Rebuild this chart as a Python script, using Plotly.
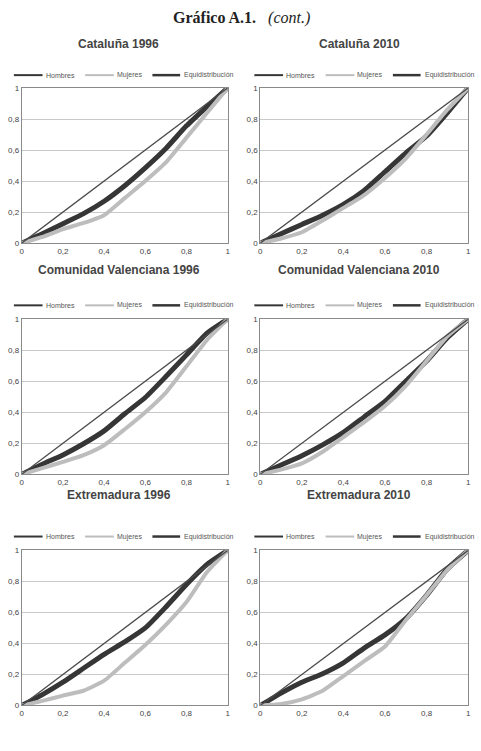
import plotly.graph_objects as go

# ---- data ----
titles = ["Cataluña 1996", "Cataluña 2010",
          "Comunidad Valenciana 1996", "Comunidad Valenciana 2010",
          "Extremadura 1996", "Extremadura 2010"]

x_pts = [0, 0.1, 0.2, 0.3, 0.4, 0.5, 0.6, 0.7, 0.8, 0.9, 1]

hombres = [
    [0, 0.06, 0.125, 0.19, 0.27, 0.37, 0.485, 0.61, 0.756, 0.88, 1],
    [0, 0.06, 0.12, 0.18, 0.25, 0.34, 0.46, 0.58, 0.69, 0.84, 1],
    [0, 0.065, 0.125, 0.197, 0.28, 0.39, 0.495, 0.63, 0.77, 0.91, 1],
    [0, 0.06, 0.12, 0.19, 0.27, 0.37, 0.47, 0.60, 0.73, 0.88, 1],
    [0, 0.07, 0.15, 0.24, 0.33, 0.41, 0.50, 0.635, 0.78, 0.91, 1],
    [0, 0.08, 0.15, 0.205, 0.275, 0.37, 0.455, 0.56, 0.71, 0.88, 1],
]
mujeres = [
    [0, 0.04, 0.09, 0.13, 0.18, 0.29, 0.40, 0.52, 0.68, 0.84, 1],
    [0, 0.03, 0.07, 0.146, 0.227, 0.31, 0.42, 0.545, 0.70, 0.86, 1],
    [0, 0.04, 0.08, 0.123, 0.187, 0.29, 0.40, 0.527, 0.696, 0.866, 1],
    [0, 0.03, 0.07, 0.145, 0.24, 0.336, 0.44, 0.57, 0.73, 0.89, 1],
    [0, 0.03, 0.064, 0.095, 0.16, 0.275, 0.39, 0.52, 0.667, 0.86, 1],
    [0, 0.01, 0.04, 0.095, 0.19, 0.286, 0.38, 0.55, 0.71, 0.875, 1],
]
equi = [0, 1]
tick_vals = [0, 0.2, 0.4, 0.6, 0.8, 1]
tick_text = ["0", "0,2", "0,4", "0,6", "0,8", "1"]
legend_names = ["Hombres", "Mujeres", "Equidistribución"]

# ---- layout geometry (pixels) ----
W, H = 481, 751
col_x = [(20, 228), (261, 471)]
row_y = [(85, 242), (319, 476), (553, 710)]
legend_y = [72, 305, 539]
title_y = [40, 269, 497]
col_base = [0, 243]
title_x = [118, 361]
# legend sample start / end and text start, relative to column base
leg_items = [(12, 41, 43), (84, 113, 115), (152, 180, 183)]

DARK = "#363636"
LIGHT = "#bdbdbd"
DIAG = "#4a4a4a"
legend_styles = [(DARK, 2), (LIGHT, 2), (DARK, 2.5)]

fig = go.Figure()
layout = dict(
    width=W, height=H, margin=dict(l=0, r=0, t=0, b=0),
    paper_bgcolor="white", plot_bgcolor="white",
    font=dict(family="Liberation Sans, Arial", color="#444"),
    annotations=[], shapes=[], showlegend=False,
)

def px(x):
    return x / W

def py(y):
    return 1 - y / H

for i in range(6):
    r, c = divmod(i, 2)
    n = i + 1
    xa = "x" if n == 1 else f"x{n}"
    ya = "y" if n == 1 else f"y{n}"
    fig.add_trace(go.Scatter(x=x_pts, y=hombres[i], mode="lines", name="Hombres",
                             line=dict(color=DARK, width=5, shape="spline", smoothing=0.5),
                             xaxis=xa, yaxis=ya))
    fig.add_trace(go.Scatter(x=x_pts, y=mujeres[i], mode="lines", name="Mujeres",
                             line=dict(color=LIGHT, width=4, shape="spline", smoothing=0.5),
                             xaxis=xa, yaxis=ya))
    fig.add_trace(go.Scatter(x=equi, y=equi, mode="lines", name="Equidistribución",
                             line=dict(color=DIAG, width=1.3),
                             xaxis=xa, yaxis=ya))
    x0, x1 = col_x[c]
    y0, y1 = row_y[r]
    xkey = "xaxis" if n == 1 else f"xaxis{n}"
    ykey = "yaxis" if n == 1 else f"yaxis{n}"
    layout[xkey] = dict(domain=[px(x0), px(x1)], range=[0, 1], anchor=ya,
                        tickvals=tick_vals, ticktext=tick_text,
                        showgrid=False, zeroline=False, showline=True, mirror=True,
                        linecolor="#8a8a8a", linewidth=1.2, ticks="",
                        tickfont=dict(size=8, color="#444"))
    layout[ykey] = dict(domain=[py(y1), py(y0)], range=[0, 1], anchor=xa,
                        tickvals=tick_vals, ticktext=tick_text,
                        showgrid=True, gridcolor="#c8c8c8", gridwidth=1,
                        zeroline=False, showline=True, mirror=True,
                        linecolor="#8a8a8a", linewidth=1.2, ticks="",
                        tickfont=dict(size=8, color="#444"))
    # legend (drawn per panel)
    base = col_base[c]
    ly = py(legend_y[r])
    for name, (col, w), (s0, s1, t0) in zip(legend_names, legend_styles, leg_items):
        layout["shapes"].append(dict(type="line", xref="paper", yref="paper",
                                     x0=px(base + s0), x1=px(base + s1), y0=ly, y1=ly,
                                     line=dict(color=col, width=w)))
        layout["annotations"].append(dict(
            text=name, x=px(base + t0 - 1), y=ly, xref="paper", yref="paper",
            xanchor="left", yanchor="middle", showarrow=False,
            font=dict(size=7, color="#555", family="Liberation Sans, Arial")))
    layout["annotations"].append(dict(
        text=f"<b>{titles[i]}</b>", x=px(title_x[c]), y=py(title_y[r]),
        xref="paper", yref="paper", xanchor="center", yanchor="middle",
        showarrow=False, font=dict(size=12, color="#444", family="Liberation Sans, Arial")))

layout["annotations"].append(dict(
    text="<b>Gráfico A.1.</b>   <i>(cont.)</i>", x=px(242), y=py(14),
    xref="paper", yref="paper", xanchor="center", yanchor="middle", showarrow=False,
    font=dict(size=16, color="#222", family="Liberation Serif, Times New Roman")))

fig.update_layout(**layout)
fig.write_html("out.html")
